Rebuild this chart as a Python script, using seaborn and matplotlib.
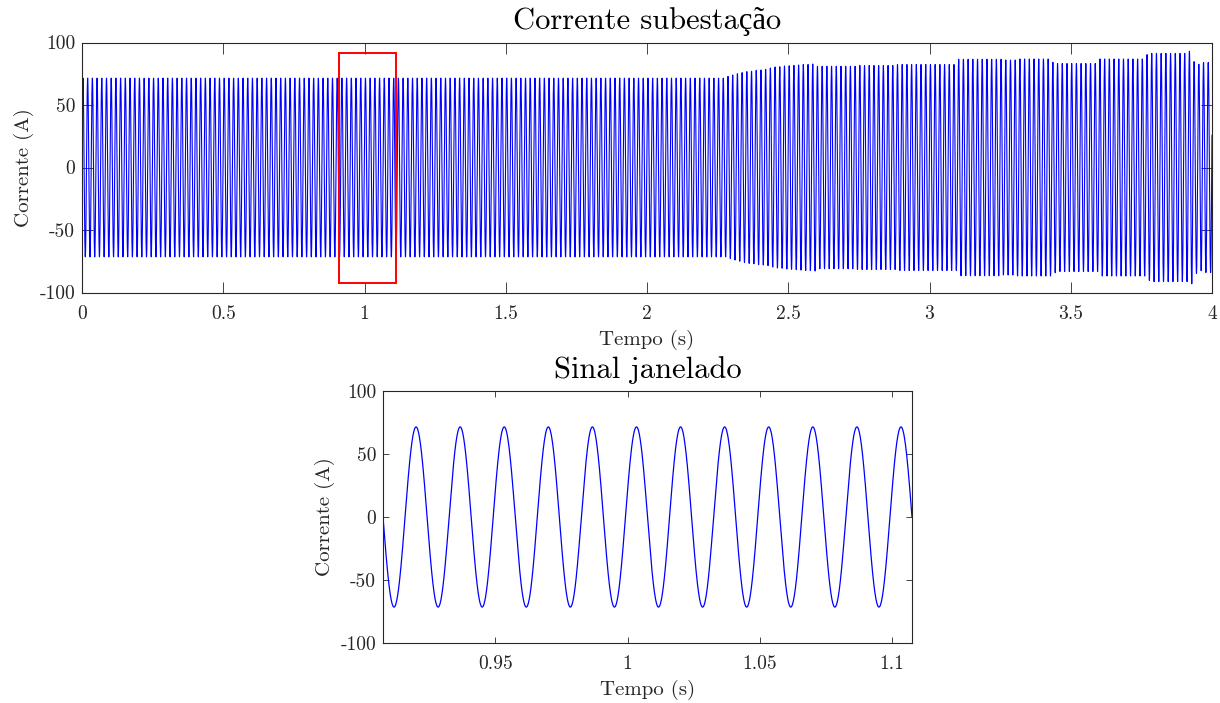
import numpy as np
import pandas as pd
import seaborn as sns
import matplotlib
matplotlib.use("Agg")
import matplotlib.pyplot as plt
from matplotlib.patches import Rectangle
from matplotlib.ticker import FuncFormatter, FixedLocator

# ---- Substation current: 60 Hz waveform, peak amplitude held per interval ----
freq_hz = 60.0
phase_cycles = 0.05          # waveform phase at t = 0, in cycles
t_end = 4.0
sample_rate = 10000          # samples per second

# interval start times (s) and peak current (A) during each interval
seg_start = [0.000, 2.280, 2.297, 2.314, 2.330, 2.347, 2.364, 2.380, 2.397,
             2.414, 2.430, 2.447, 2.464, 2.480, 2.497, 2.514, 2.530, 2.547,
             2.564, 2.580, 2.600, 2.740, 2.880, 3.100, 3.260, 3.310, 3.430,
             3.450, 3.600, 3.765, 3.782, 3.915, 3.932, 3.948, 3.965]
seg_peak = [71.5, 72.9, 74.0, 75.0, 75.9, 76.7, 77.0, 77.7, 78.0,
            78.5, 79.6, 80.4, 80.6, 81.2, 81.4, 81.7, 82.0, 82.4,
            82.4, 82.8, 81.0, 81.6, 82.4, 86.6, 86.0, 86.8, 84.2,
            83.2, 86.8, 90.3, 91.3, 93.0, 84.7, 82.6, 84.0]

# detail window and the box that marks it on the full record
window_start = 0.9075
window_len = 0.2
box_x = [0.91, 1.11]
box_y = [-92.0, 92.0]

xticks_full = [0, 0.5, 1, 1.5, 2, 2.5, 3, 3.5, 4]
xticks_win = [0.95, 1.0, 1.05, 1.1]
yticks = [-100, -50, 0, 50, 100]
ylim = (-100, 100)

title_full = "Corrente subestação"
title_win = "Sinal janelado"
xlabel = "Tempo (s)"
ylabel = "Corrente (A)"

# ---- build the sampled record ----
t = np.arange(0.0, t_end + 0.5 / sample_rate, 1.0 / sample_rate)
seg_idx = np.searchsorted(seg_start, t, side="right") - 1
peak = np.asarray(seg_peak)[seg_idx]
current = peak * np.sin(2 * np.pi * (freq_hz * t + phase_cycles))
df = pd.DataFrame({"t": t, "i": current})

in_win = (df["t"] >= window_start - 1e-9) & (df["t"] <= window_start + window_len + 1e-9)
df_win = df[in_win]

# ---- style ----
sns.set_theme(style="ticks")
plt.rcParams["font.family"] = ["cmr10", "Liberation Serif"]
plt.rcParams["axes.unicode_minus"] = False
plt.rcParams["axes.formatter.use_mathtext"] = True

axis_col = "#262626"
line_col = "#0000ff"

fig = plt.figure(figsize=(12.2, 7.03), dpi=100)
fig.patch.set_facecolor("white")

ax1 = fig.add_axes([82 / 1220, 1 - 292.5 / 703, 1130 / 1220, 250 / 703])
ax2 = fig.add_axes([383 / 1220, 1 - 643 / 703, 529 / 1220, 252 / 703])

sns.lineplot(data=df, x="t", y="i", ax=ax1, color=line_col, linewidth=0.8,
             estimator=None, sort=False)
sns.lineplot(data=df_win, x="t", y="i", ax=ax2, color=line_col, linewidth=0.9,
             estimator=None, sort=False)

ax1.add_patch(Rectangle((box_x[0], box_y[0]), box_x[1] - box_x[0], box_y[1] - box_y[0],
                        fill=False, edgecolor="#ff0000", linewidth=1.4, zorder=5))

fmt = FuncFormatter(lambda v, pos: f"{v:g}")

for ax, xt, xl, tick_len in ((ax1, xticks_full, (0, t_end), 8.0),
                             (ax2, xticks_win, (window_start, window_start + window_len), 4.0)):
    ax.set_xlim(*xl)
    ax.set_ylim(*ylim)
    ax.xaxis.set_major_locator(FixedLocator(xt))
    ax.yaxis.set_major_locator(FixedLocator(yticks))
    ax.xaxis.set_major_formatter(fmt)
    ax.yaxis.set_major_formatter(fmt)
    ax.set_facecolor("white")
    for sp in ax.spines.values():
        sp.set_visible(True)
        sp.set_color(axis_col)
        sp.set_linewidth(0.8)
    ax.tick_params(axis="both", which="major", direction="in", top=True, right=True,
                   length=tick_len, width=0.6, color=axis_col, labelcolor=axis_col,
                   labelsize=14, pad=5)
    ax.tick_params(axis="x", pad=9)
    ax.set_xlabel(xlabel, fontsize=15, color=axis_col, labelpad=5)
    ax.set_ylabel(ylabel, fontsize=15, color=axis_col, labelpad=4)
    ax.grid(False)

ax1.set_title(title_full, fontsize=22, color="black", pad=10)
ax2.set_title(title_win, fontsize=22, color="black", pad=9)

fig.savefig("out.png", dpi=100, facecolor="white")
